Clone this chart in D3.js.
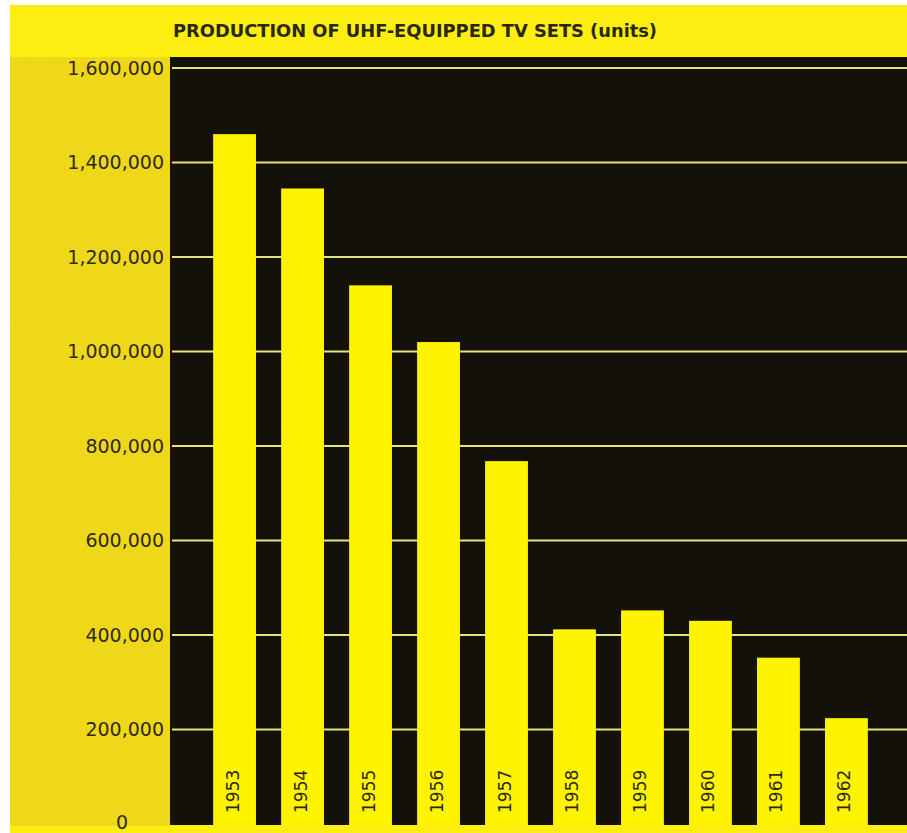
<!DOCTYPE html>
<html>
<head>
<meta charset="utf-8">
<script src="https://cdn.jsdelivr.net/npm/d3@7.9.0/dist/d3.min.js"></script>
<style>
  body { margin: 0; background: #fff; }
  svg { display: block; }
</style>
</head>
<body>
<svg id="chart" width="907" height="833"></svg>
<script>
const years = ["1953", "1954", "1955", "1956", "1957", "1958", "1959", "1960", "1961", "1962"];
const units = [1460000, 1345000, 1140000, 1020000, 768000, 412000, 452000, 430000, 352000, 224000];
const yTicks = [0, 200000, 400000, 600000, 800000, 1000000, 1200000, 1400000, 1600000];
const title = "PRODUCTION OF UHF-EQUIPPED TV SETS (units)";

const svg = d3.select("#chart"),
      width = +svg.attr("width"),
      height = +svg.attr("height"),
      panel = { left: 170, top: 57, bottom: 825 };

// grainy print look for the yellow side panel
const defs = svg.append("defs");
const grain = defs.append("filter").attr("id", "grain")
    .attr("x", 0).attr("y", 0).attr("width", "100%").attr("height", "100%");
grain.append("feTurbulence").attr("type", "fractalNoise")
    .attr("baseFrequency", 0.9).attr("numOctaves", 2).attr("seed", 3);
grain.append("feColorMatrix").attr("type", "matrix")
    .attr("values", "0 0 0 0 0.6  0 0 0 0 0.5  0 0 0 0 0.1  0 0 0 -1.6 1.05");
grain.append("feComposite").attr("in2", "SourceGraphic").attr("operator", "in");

// backgrounds
svg.append("rect").attr("x", 10).attr("y", 5)
    .attr("width", width - 10).attr("height", height - 5)
    .attr("fill", "#fbee10");
svg.append("rect").attr("x", 10).attr("y", panel.top)
    .attr("width", panel.left - 10).attr("height", panel.bottom + 1 - panel.top)
    .attr("fill", "#f2da14");
svg.append("rect").attr("x", 10).attr("y", panel.top)
    .attr("width", panel.left - 10).attr("height", panel.bottom + 1 - panel.top)
    .attr("fill", "#f2da14").attr("filter", "url(#grain)").attr("opacity", 0.3);
svg.append("rect").attr("x", panel.left).attr("y", panel.top)
    .attr("width", width - panel.left).attr("height", panel.bottom - panel.top)
    .attr("fill", "#13110a");

svg.append("text")
    .attr("x", 173).attr("y", 37)
    .attr("font-family", "'Liberation Sans Narrow', 'DejaVu Sans Condensed', sans-serif")
    .attr("font-weight", "bold")
    .attr("font-size", 17)
    .attr("textLength", 484)
    .attr("lengthAdjust", "spacingAndGlyphs")
    .attr("fill", "#2b2712")
    .text(title);

const x = d3.scaleBand()
    .domain(years)
    .range([188, 893])
    .paddingInner(0.37)
    .paddingOuter(0.37);

const y = d3.scaleLinear()
    .domain([0, 1600000])
    .range([824, 68]);

// gridlines
svg.append("g")
    .selectAll("line")
    .data(yTicks.filter(d => d > 0))
    .join("line")
    .attr("x1", panel.left + 2).attr("x2", width)
    .attr("y1", d => y(d)).attr("y2", d => y(d))
    .attr("stroke", "#e6e27a")
    .attr("stroke-width", 2);

// y labels
const yAxis = svg.append("g")
    .attr("transform", "translate(164,0)")
    .call(d3.axisLeft(y).tickValues(yTicks).tickSize(0).tickPadding(0).tickFormat(d3.format(",")));
yAxis.select(".domain").remove();
yAxis.selectAll("text")
    .attr("font-family", "'DejaVu Sans', sans-serif")
    .attr("font-size", 19)
    .attr("fill", "#2f2a12")
    .attr("x", d => d === 0 ? -36 : 0)
    .attr("y", d => d === 0 ? -2 : 0);

// bars
svg.append("g")
    .selectAll("rect")
    .data(units)
    .join("rect")
    .attr("x", (d, i) => x(years[i]))
    .attr("y", d => y(d))
    .attr("width", x.bandwidth())
    .attr("height", d => y(0) + 1 - y(d))
    .attr("fill", "#fff400");

// year labels inside bars
svg.append("g")
    .selectAll("text")
    .data(years)
    .join("text")
    .attr("transform", d => `translate(${x(d) + x.bandwidth() / 2 + 4},813) rotate(-90)`)
    .attr("font-family", "'DejaVu Sans', sans-serif")
    .attr("font-size", 17)
    .attr("fill", "#2b2712")
    .text(d => d);
</script>
</body>
</html>
